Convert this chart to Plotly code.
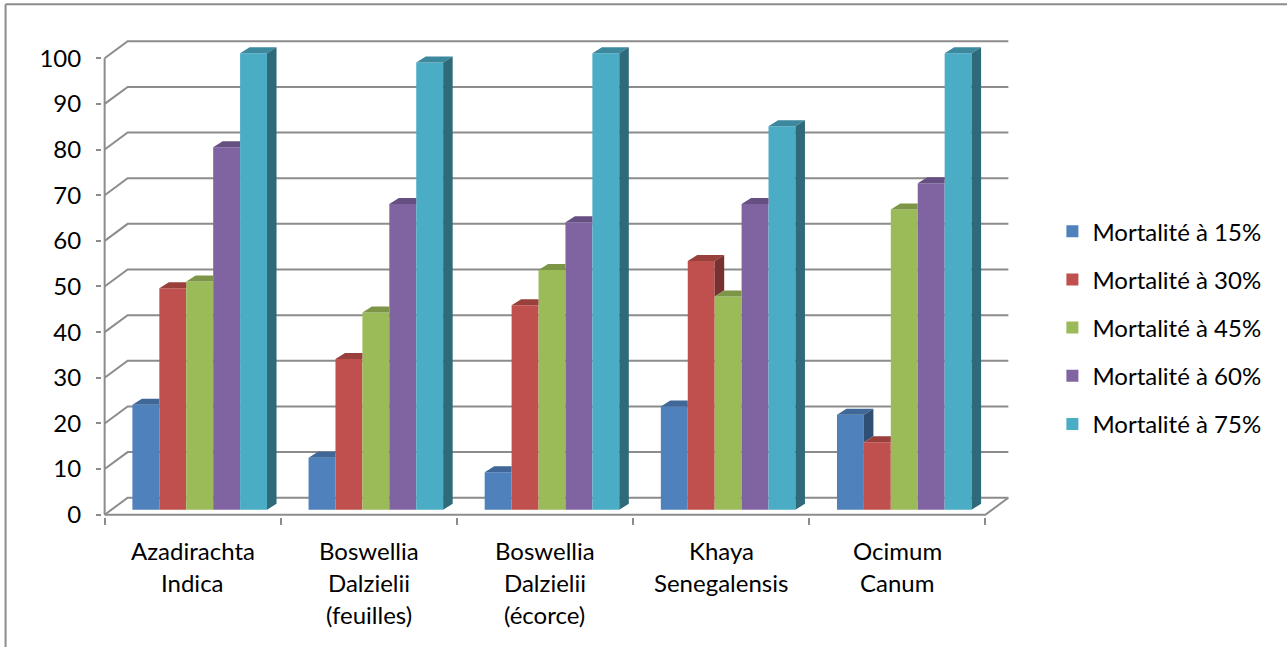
import plotly.graph_objects as go

# ---- data -------------------------------------------------------------
categories = [
    "Azadirachta\nIndica",
    "Boswellia\nDalzielii\n(feuilles)",
    "Boswellia\nDalzielii\n(écorce)",
    "Khaya\nSenegalensis",
    "Ocimum\nCanum",
]
series_names = [
    "Mortalité à 15%",
    "Mortalité à 30%",
    "Mortalité à 45%",
    "Mortalité à 60%",
    "Mortalité à 75%",
]
mort_15 = [23.0, 11.4, 8.2, 22.6, 20.8]
mort_30 = [48.5, 33.0, 44.8, 54.5, 14.8]
mort_45 = [50.0, 43.2, 52.5, 46.7, 65.8]
mort_60 = [79.4, 67.0, 63.0, 67.0, 71.5]
mort_75 = [100.0, 98.0, 100.0, 84.0, 100.0]
y_ticks = list(range(0, 101, 10))

series_values = [mort_15, mort_30, mort_45, mort_60, mort_75]
front_colors = ["#4F81BD", "#C0504D", "#9BBB59", "#8064A2", "#4BACC6"]

# ---- pseudo-3D geometry (axis units) ----------------------------------
W, H = 1287, 647
PX_CAT, PX_UNIT = 176.0, 4.57          # pixels per category / per value unit
X0PX, Y0PX = 105.0, 515.0              # pixel of front corner (x=-0.5, y=0)
DEPTH_X, DEPTH_Y = 23 / PX_CAT, 17 / PX_UNIT      # floor/wall depth offset
SHIFT_X, SHIFT_Y = 7 / PX_CAT, 5 / PX_UNIT        # bars' plane offset
BAR_W = 26.9 / PX_CAT
BAR_DX, BAR_DY = 9.5 / PX_CAT, 6 / PX_UNIT        # bar depth offset
n_cat = len(categories)


def xpx(x):
    return X0PX + (x + 0.5) * PX_CAT


def ypx(y):
    return Y0PX - y * PX_UNIT


def shade(hex_color, k):
    r, g, b = (int(hex_color[i:i + 2], 16) for i in (1, 3, 5))
    return "rgb({},{},{})".format(int(r * k), int(g * k), int(b * k))


x_range = [-0.5 - 0.015, n_cat - 0.5 + DEPTH_X + 0.015]
y_range = [-0.5, 100 + DEPTH_Y + 0.5]

m_l = xpx(x_range[0])
m_r = W - xpx(x_range[1])
m_t = ypx(y_range[1])
m_b = H - ypx(y_range[0])
plot_w = W - m_l - m_r
plot_h = H - m_t - m_b

fig = go.Figure()

n_ser = len(series_values)
for j, (name, vals, col) in enumerate(zip(series_names, series_values, front_colors)):
    xs = [i + SHIFT_X + (j - (n_ser - 1) / 2) * BAR_W for i in range(n_cat)]
    fig.add_trace(go.Bar(
        x=xs, y=vals, base=[SHIFT_Y] * n_cat, width=BAR_W, name=name,
        legendgroup="g{}".format(j),
        marker=dict(color=col, line=dict(width=0)), hoverinfo="skip",
    ))

# top and side faces of each bar, trimmed where the neighbouring bar hides them
for j, (vals, col) in enumerate(zip(series_values, front_colors)):
    tx, ty, sx, sy = [], [], [], []
    for i in range(n_cat):
        xc = i + SHIFT_X + (j - (n_ser - 1) / 2) * BAR_W
        xl, xr = xc - BAR_W / 2, xc + BAR_W / 2
        top = SHIFT_Y + vals[i]
        nxt = series_values[j + 1][i] if j + 1 < n_ser else None
        if nxt is not None and nxt >= vals[i]:
            tx += [xl, xr, xr, xl + BAR_DX, xl, None]
            ty += [top, top, top + BAR_DY, top + BAR_DY, top, None]
        else:
            tx += [xl, xr, xr + BAR_DX, xl + BAR_DX, xl, None]
            ty += [top, top, top + BAR_DY, top + BAR_DY, top, None]
            low = SHIFT_Y + (nxt if nxt is not None else 0.0)
            sx += [xr, xr, xr + BAR_DX, xr + BAR_DX, xr, None]
            sy += [low, top, top + BAR_DY, low + BAR_DY, low, None]
    fig.add_trace(go.Scatter(x=tx, y=ty, mode="lines", fill="toself",
                             fillcolor=shade(col, 0.80), line=dict(width=0),
                             showlegend=False, hoverinfo="skip"))
    if sx:
        fig.add_trace(go.Scatter(x=sx, y=sy, mode="lines", fill="toself",
                                 fillcolor=shade(col, 0.62), line=dict(width=0),
                                 showlegend=False, hoverinfo="skip"))

# back wall gridlines, floor edges and front value axis
GRID = "#8C8C8C"
shapes = []
xl_front, xr_front = -0.5, n_cat - 0.5
for v in y_ticks:
    shapes.append(dict(
        type="path", xref="x", yref="y", layer="below",
        path="M {},{} L {},{} L {},{}".format(
            xl_front, v, xl_front + DEPTH_X, v + DEPTH_Y, xr_front + DEPTH_X, v + DEPTH_Y),
        line=dict(color=GRID, width=2)))
shapes.append(dict(type="path", xref="x", yref="y", layer="below",
                   path="M {},{} L {},{} L {},{}".format(
                       xl_front, 0, xr_front, 0, xr_front + DEPTH_X, DEPTH_Y),
                   line=dict(color=GRID, width=2)))
shapes.append(dict(type="line", xref="x", yref="y", layer="below",
                   x0=xl_front, y0=0, x1=xl_front, y1=100,
                   line=dict(color=GRID, width=2)))


# outer chart frame
def px2paper_x(px):
    return (px - m_l) / plot_w


def px2paper_y(py):
    return (H - m_b - py) / plot_h


shapes.append(dict(type="line", xref="paper", yref="paper",
                   x0=px2paper_x(6), y0=px2paper_y(4), x1=px2paper_x(W + 5), y1=px2paper_y(4),
                   line=dict(color="#8C8C8C", width=2)))
shapes.append(dict(type="line", xref="paper", yref="paper",
                   x0=px2paper_x(6), y0=px2paper_y(4), x1=px2paper_x(6), y1=px2paper_y(H + 5),
                   line=dict(color="#8C8C8C", width=2)))

FONT = "Lato, 'Noto Sans', 'DejaVu Sans', sans-serif"
FS = 24

# category labels, one annotation per text line
annotations = []
LINE_GAP = 32
for i, label in enumerate(categories):
    for k, line in enumerate(label.split("\n")):
        annotations.append(dict(
            x=i, xref="x", y=0, yref="paper", yanchor="middle", xanchor="center",
            yshift=-(551 - (H - m_b)) - k * LINE_GAP, text=line, showarrow=False,
            font=dict(family=FONT, size=FS, color="#000000")))

fig.update_layout(
    width=W, height=H, autosize=False,
    margin=dict(l=m_l, r=m_r, t=m_t, b=m_b, pad=0),
    paper_bgcolor="white", plot_bgcolor="white",
    barmode="overlay",
    font=dict(family=FONT, size=FS, color="#000000"),
    xaxis=dict(range=x_range, showgrid=False, zeroline=False, showline=False,
               tickmode="array", tickvals=[k - 0.5 for k in range(n_cat + 1)],
               ticktext=[""] * (n_cat + 1), ticks="outside", ticklen=7,
               tickcolor=GRID, tickwidth=2, fixedrange=True),
    yaxis=dict(range=y_range, showgrid=False, zeroline=False, showline=False,
               tickmode="array", tickvals=y_ticks, ticks="outside", ticklen=5,
               tickcolor=GRID, tickwidth=2, ticklabelstandoff=10,
               tickfont=dict(family=FONT, size=FS, color="#000000"), fixedrange=True),
    legend=dict(x=px2paper_x(1052), xanchor="left", y=px2paper_y(209), yanchor="top",
                font=dict(family=FONT, size=FS, color="#000000"),
                tracegroupgap=14, bgcolor="rgba(0,0,0,0)", traceorder="grouped"),
    shapes=shapes, annotations=annotations,
)

fig.write_html("out.html")
